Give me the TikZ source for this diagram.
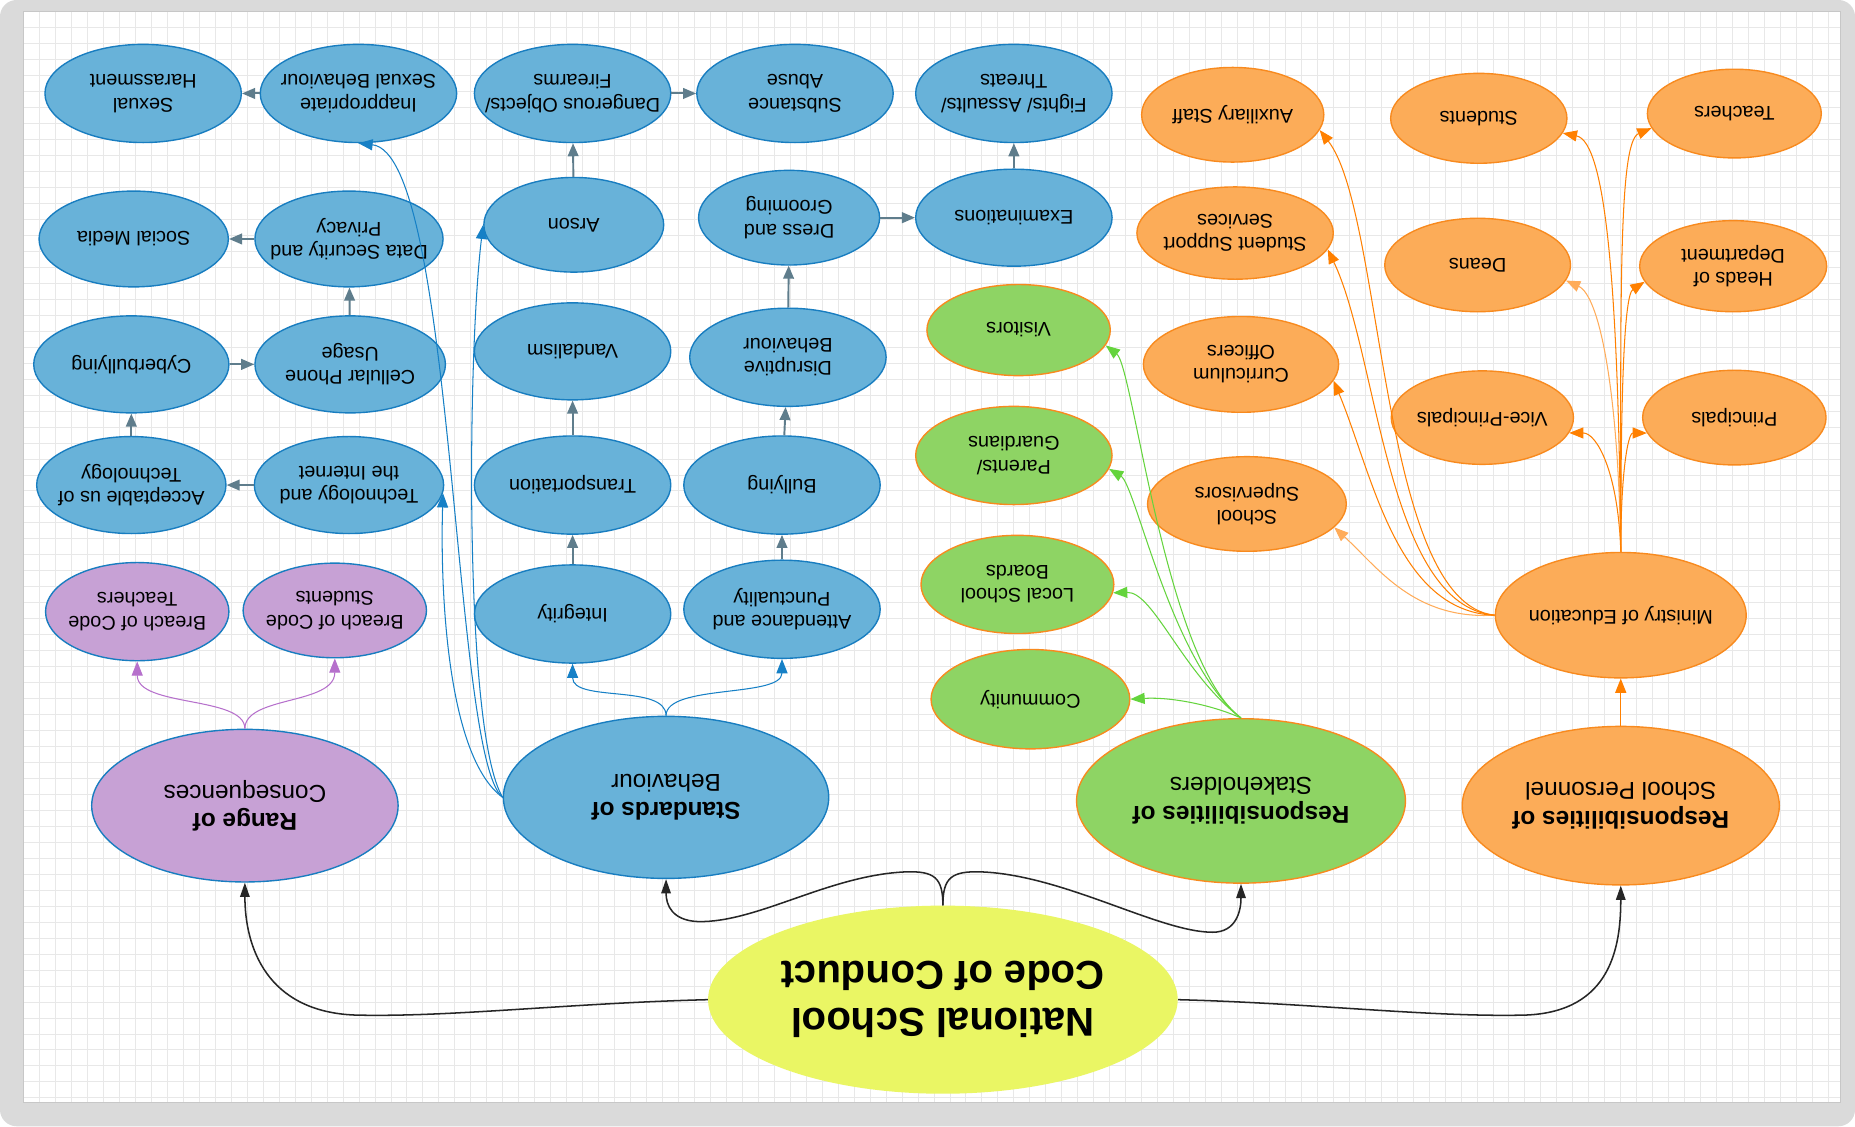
\documentclass[tikz,border=0pt]{standalone}
\usepackage{fontspec}
\setmainfont{Liberation Sans}
\usetikzlibrary{arrows.meta,shapes.geometric}
\definecolor{frame}{RGB}{218,218,218}
\definecolor{gridln}{RGB}{232,232,232}
\definecolor{topicfill}{RGB}{104,178,217}
\definecolor{topicline}{RGB}{24,125,192}
\definecolor{conseqfill}{RGB}{199,161,213}
\definecolor{stakefill}{RGB}{142,212,100}
\definecolor{stafffill}{RGB}{252,172,88}
\definecolor{staffline}{RGB}{248,138,30}
\definecolor{rootfill}{RGB}{234,246,100}
\definecolor{steel}{RGB}{95,125,140}
\definecolor{bluelink}{RGB}{22,128,198}
\definecolor{greenlink}{RGB}{100,212,60}
\definecolor{orangelink}{RGB}{255,128,0}
\definecolor{purplelink}{RGB}{182,112,204}
\newcommand{\bubfont}{\fontsize{14.3}{16.8}\selectfont}
\newcommand{\bigfont}{\fontsize{17.6}{20.5}\selectfont}
\newcommand{\rootfont}{\fontsize{29}{34}\selectfont\bfseries}
\tikzset{
  bub/.style={ellipse,rotate=180,draw=#1,line width=1pt,inner xsep=-2.5cm,inner ysep=-1.2cm,
    align=center,font=\bubfont,minimum width=4.98cm,minimum height=2.49cm},
  topic/.style={bub=topicline,fill=topicfill},
  conseq/.style={bub=topicline,fill=conseqfill},
  stake/.style={bub=staffline,fill=stakefill},
  staff/.style={bub=staffline,fill=stafffill},
  dims/.style 2 args={minimum width=#1cm,minimum height=#2cm},
  main/.style={font=\bigfont,inner xsep=-4cm,inner ysep=-2cm},
  rootbub/.style={ellipse,rotate=180,fill=rootfill,inner xsep=-5cm,inner ysep=-2cm,
    align=center,font=\rootfont,minimum width=11.91cm,minimum height=4.77cm},
  gridline/.style={draw=gridln,line width=0.7pt},
  link/.style={draw=steel,line width=1.4pt,-{Triangle[length=0.33cm,width=0.27cm]}},
  curve/.style={draw=#1,line width=0.75pt,-{Triangle[length=0.36cm,width=0.28cm]}},
  spine/.style={draw=black!85,line width=1.1pt,-{Triangle[length=0.36cm,width=0.24cm]}},
}

\begin{document}
\begin{tikzpicture}[x=0.03cm,y=-0.03cm]
  \useasboundingbox (0,0) rectangle (1568,952);
  % canvas
  \fill[white] (0,0) rectangle (1568,952);
  \fill[frame,rounded corners=12pt] (0,0) rectangle (1568,952);
  \fill[white] (20,10) rectangle (1556,932);
  \foreach \gx in {20,33.5,...,1556} \draw[gridline] (\gx,10) -- (\gx,932);
  \foreach \gy in {10,23.5,...,932} \draw[gridline] (20,\gy) -- (1556,\gy);
  \draw[black!22,line width=0.8pt] (20,10) rectangle (1556,932);

  % standards of behaviour
  \node[topic] (sexh) at (121,79) {Sexual\\Harassment};
  \node[topic] (inap) at (303,79) {Inappropriate\\Sexual Behaviour};
  \node[topic] (dang) at (484,79) {Dangerous Objects/\\Firearms};
  \node[topic] (subs) at (672,79) {Substance\\Abuse};
  \node[topic] (figh) at (857,79) {Fights/ Assaults/\\Threats};
  \node[topic,dims={4.8}{2.43}] (soc) at (113,202) {Social Media};
  \node[topic,dims={4.77}{2.43}] (data) at (295,202) {Data Security and\\Privacy};
  \node[topic,dims={4.56}{2.4}] (arson) at (485,190) {Arson};
  \node[topic,dims={4.59}{2.4}] (dress) at (667,184) {Dress and\\Grooming};
  \node[topic,dims={4.98}{2.46}] (exam) at (857,184) {Examinations};
  \node[topic,dims={4.95}{2.46}] (cyber) at (111,308) {Cyberbullying};
  \node[topic,dims={4.83}{2.46}] (cell) at (296,308) {Cellular Phone\\Usage};
  \node[topic,dims={4.98}{2.46}] (vand) at (484,297) {Vandalism};
  \node[topic] (disr) at (666,302) {Disruptive\\Behaviour};
  \node[topic,dims={4.8}{2.46}] (accep) at (111,410) {Acceptable us of\\Technology};
  \node[topic,dims={4.8}{2.46}] (tech) at (295,410) {Technology and\\the Internet};
  \node[topic] (trans) at (484,410) {Transportation};
  \node[topic] (bull) at (661,410) {Bullying};
  \node[topic] (integ) at (484,519) {Integrity};
  \node[topic] (atten) at (661,515) {Attendance and\\Punctuality};
  \node[topic,main,dims={8.25}{4.11}] (std) at (563,674) {\textbf{Standards of}\\Behaviour};

  % consequences
  \node[conseq,dims={4.65}{2.49}] (bct) at (116,517) {Breach of Code\\Teachers};
  \node[conseq,dims={4.65}{2.4}] (bcs) at (283,516) {Breach of Code\\Students};
  \node[conseq,main,dims={7.77}{3.87}] (range) at (207,681) {\textbf{Range of}\\Consequences};

  % stakeholders
  \node[stake,dims={4.65}{2.31}] (vis) at (861,279) {Visitors};
  \node[stake] (par) at (857,385) {Parents/\\Guardians};
  \node[stake,dims={4.89}{2.49}] (boards) at (860,494) {Local School\\Boards};
  \node[stake,dims={5.04}{2.52}] (comm) at (871,591) {Community};
  \node[stake,main,dims={8.34}{4.17}] (stake) at (1049,677) {\textbf{Responsibilities of}\\Stakeholders};

  % school personnel
  \node[staff,dims={4.62}{2.4}] (aux) at (1042,97) {Auxiliary Staff};
  \node[staff,dims={4.47}{2.28}] (stud) at (1250,100) {Students};
  \node[staff,dims={4.41}{2.25}] (teach) at (1466,96) {Teachers};
  \node[staff,dims={4.98}{2.34}] (sss) at (1044,197) {Student Support\\Services};
  \node[staff,dims={4.71}{2.37}] (deans) at (1249,224) {Deans};
  \node[staff,dims={4.74}{2.31}] (heads) at (1465,225) {Heads of\\Department};
  \node[staff,dims={4.95}{2.43}] (curr) at (1049,308) {Curriculum\\Officers};
  \node[staff,dims={4.62}{2.37}] (vp) at (1253,353) {Vice-Principals};
  \node[staff,dims={4.65}{2.4}] (prin) at (1466,353) {Principals};
  \node[staff,dims={5.04}{2.4}] (sup) at (1054,426) {School\\Supervisors};
  \node[staff,dims={6.36}{3.18}] (mini) at (1370,520) {Ministry of Education};
  \node[staff,main,dims={8.04}{4.02}] (pers) at (1370,681) {\textbf{Responsibilities of}\\School Personnel};

  \node[rootbub] (root) at (797,845) {National School\\Code of Conduct};

  % root branches
  \draw[spine] (root.south) .. controls (797,742) and (790,736) .. (765,737)
    .. controls (700,740) and (640,780) .. (590,779) .. controls (568,778) and (563,765) .. (std.north);
  \draw[spine] (root.south) .. controls (797,742) and (804,736) .. (830,737)
    .. controls (900,740) and (980,788) .. (1025,788) .. controls (1045,788) and (1049,770) .. (stake.north);
  \draw[spine] (root.east) .. controls (480,848) and (380,860) .. (300,858)
    .. controls (225,855) and (207,800) .. (range.north);
  \draw[spine] (root.west) .. controls (1110,848) and (1210,860) .. (1290,858)
    .. controls (1362,855) and (1370,800) .. (pers.north);

  % behaviour chains
  \draw[link] (inap) -- (sexh);
  \draw[link] (dang) -- (subs);
  \draw[link] (arson) -- (dang);
  \draw[link] (data) -- (soc);
  \draw[link] (cell) -- (data);
  \draw[link] (cyber) -- (cell);
  \draw[link] (accep) -- (cyber);
  \draw[link] (tech) -- (accep);
  \draw[link] (integ) -- (trans);
  \draw[link] (trans) -- (vand);
  \draw[link] (atten) -- (bull);
  \draw[link] (bull) -- (disr);
  \draw[link] (disr) -- (dress);
  \draw[link] (dress) -- (exam);
  \draw[link] (exam) -- (figh);

  \draw[curve=bluelink] (std.south) .. controls (563,578) and (484,594) .. (integ.north);
  \draw[curve=bluelink] (std.south) .. controls (563,578) and (661,590) .. (atten.north);
  \draw[curve=bluelink] (std.east) .. controls (382,640) and (385,130) .. (inap.north);
  \draw[curve=bluelink] (std.east) .. controls (392,620) and (395,300) .. (arson.east);
  \draw[curve=bluelink] (std.east) .. controls (378,640) and (372,500) .. (tech.175);

  \draw[curve=purplelink] (range.south) .. controls (207,588) and (116,598) .. (bct.north);
  \draw[curve=purplelink] (range.south) .. controls (207,588) and (283,596) .. (bcs.north);

  \draw[curve=greenlink] (stake.south) .. controls (1025,596) and (990,589) .. (comm.west);
  \draw[curve=greenlink] (stake.south) .. controls (1000,570) and (975,500) .. (boards.175);
  \draw[curve=greenlink] (stake.south) .. controls (990,560) and (960,410) .. (par.172);
  \draw[curve=greenlink] (stake.south) .. controls (985,560) and (958,310) .. (vis.170);

  \draw[curve=orangelink] (pers.south) -- (mini.north);
  \draw[curve=orangelink] (mini.south) .. controls (1370,400) and (1376,366) .. (prin.10);
  \draw[curve=orangelink] (mini.south) .. controls (1370,350) and (1372,250) .. (heads.10);
  \draw[curve=orangelink] (mini.south) .. controls (1370,250) and (1368,120) .. (teach.10);
  \draw[curve=orangelink] (mini.south) .. controls (1368,400) and (1350,366) .. (vp.170);
  \draw[curve=orangelink!65] (mini.south) .. controls (1368,330) and (1352,250) .. (deans.170);
  \draw[curve=orangelink] (mini.south) .. controls (1368,250) and (1358,120) .. (stud.170);
  \draw[curve=orangelink!65] (mini.east) .. controls (1195,524) and (1165,480) .. (sup.165);
  \draw[curve=orangelink] (mini.east) .. controls (1180,517) and (1160,400) .. (curr.170);
  \draw[curve=orangelink] (mini.east) .. controls (1172,512) and (1165,300) .. (sss.170);
  \draw[curve=orangelink] (mini.east) .. controls (1166,510) and (1170,180) .. (aux.170);
\end{tikzpicture}
\end{document}
